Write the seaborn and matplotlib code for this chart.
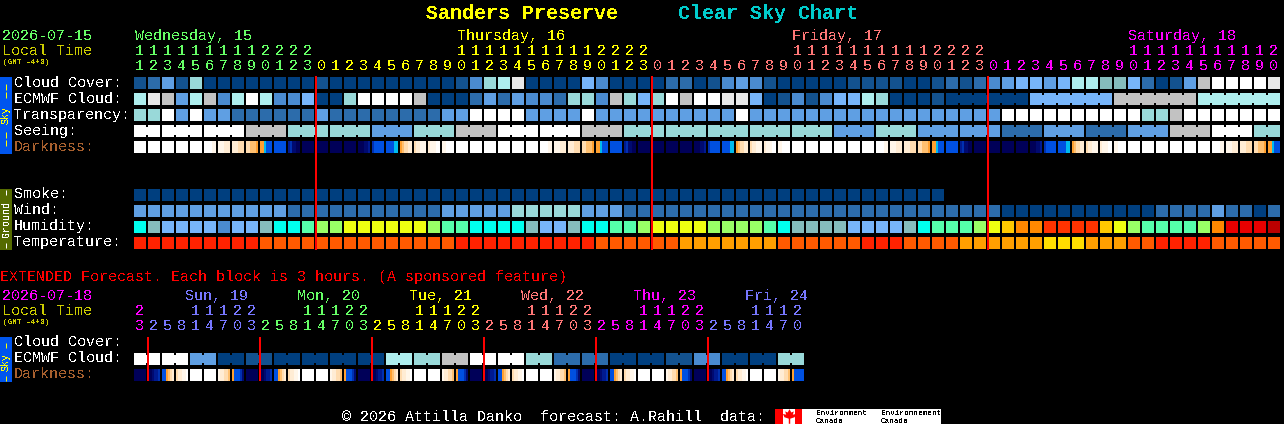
import numpy as np
import pandas as pd
import matplotlib
matplotlib.use("Agg")
import matplotlib.pyplot as plt
import seaborn as sns
from matplotlib.colors import ListedColormap
from matplotlib.patches import Rectangle

sns.set_style("dark")
plt.rcParams['font.family'] = ['Liberation Mono', 'DejaVu Sans Mono']
plt.rcParams['text.antialiased'] = False

W, H = 1284, 424

# one letter per block, letters joined together are blocks drawn as one run
cloud_cover = "B C E B G A A A A A A A A B A A A A A A A A A B D G H J A A A A F D A A A A C C A B D E D B A A A A A B B B B A A B C B C D E F F E F H H T T F C A B E I K K K K J"
ecmwf_cloud = "H J I E H I D H K H D D F A A G K K K K I A A A C E C E D D C G G D I G F G K I K K J J F A B D B D F F H G A A A B AAAAAA FFFFFF IIIIII HHHHHH"
transparency = ("G G K E K E E C C C  C C C E C C C C C C  C C E E K K K K E E  E E K E E E E E E E  "
                "E E E K E E E E E E  E E E E E E E E E E  E E K K K K K K K K  K K G G I K K K K K K K")
seeing = "KK KKK KKK III GGG GGG EEE GGG III KKK KKK III GGG GGG GGG GGG GGG EEE GGG EEE EEE CCC EEE CCC EEE III KKK GG"
smoke = "A A A A A A A A A A A A A A A A A A A A A A A A A A A A A A A A A A A A A A A A A A A A A A A A A A A A A A A A A A"
wind = "E E E E E E E E E E E C C C C C C C C C C C E E E E E G G G G G E E E C C C C C C C C C C C C C C C C C C C C C C C C C C C A A A A A A A A A A A C C C C E C C A C"
humidity = "Y T F F F F D F F T Y Y M L L N N N N N N L M M Y Y Y Y T F F T Y Y M M L N N N N L L L L M Y T T T T F F F F T Y M M M L N P O O R R R R P N L M M M M L O S S S U"
temperature = "1 1 1 1 1 1 1 1 1 2 2 2 2 2 2 2 2 2 2 2 2 2 2 1 1 1 1 1 1 1 1 1 1 2 2 2 2 2 2 3 3 3 3 3 3 3 2 2 2 2 2 2 1 1 1 2 2 2 2 3 3 3 3 3 3 4 4 4 3 3 3 2 2 1 1 1 1 2 2 2 2 2"

# darkness: one letter = solid block, six letters = colour across the block
darkness = """K K K K K KKKKaa aaabbb bbbccc ccddde eefggg g ihjjkk k k k k kkkjji hggggg ggggff edccbb cbbaaa baaaKK aaKKKK
K K K K K K KKKKaa aaabbb bbbccc ccddde eefggg g ihjjkk k k k k kkkjji hggggg ggggff edccbb cbbaaa baaaKK aaKKKK
K K K K K K KKKKaa aaabbb bbbccc ccddde eefggg g ihjjkk k k k k kkkjji hggggg ggggff edccbb cbbaaa baaaKK aaKKKK
K K K K K K KKKKaa aaabbb bbbccc ccddde eefggg"""

ext_ecmwf = "KK KK EE AA BB AA AA AA AA HH GG II KK KK GG CC CC AA AA BB DD AA AA GG"
ext_darkness = """k kkjiih ggedcb cbbaaK K K abbccd eggghj k kkjiih ggedcb cbbaaK K K abbccd eggghj
k kkjiih ggedcb cbbaaK K K abbccd eggghj k kkjiih ggedcb cbbaaK K K abbccd eggghj
k kkjiih ggedcb cbbaaK K K abbccd eggghj k kkjiih ggedcb cbbaaK K K abbccd eggggg"""

colors = {
    'A': '#003f7f', 'B': '#13528f', 'C': '#2c6cab', 'D': '#4a8bd0', 'E': '#5f9fe3', 'F': '#77b5fa',
    'G': '#99d9d9', 'H': '#aeeeee', 'T': '#85bdbd', 'I': '#c2c2c2', 'J': '#e8e8e8', 'K': '#ffffff',
    'Y': '#00ffee', 'M': '#55ffaa', 'L': '#99ff66', 'N': '#eeff11', 'P': '#ffc800', 'O': '#ff8800',
    'R': '#ff3300', 'S': '#e80000', 'U': '#bb0000',
    '1': '#ff2200', '2': '#ff5a00', '3': '#ff9f00', '4': '#ffdd00',
    'a': '#fff6ea', 'b': '#ffecd4', 'c': '#ffdcb0', 'd': '#ffc070', 'e': '#ffa030', 'f': '#00bbee',
    'g': '#0050e0', 'h': '#0030b0', 'i': '#001a90', 'j': '#000a70', 'k': '#000058',
}
letters = list(colors)
cmap = ListedColormap(list(colors.values()))

GREEN, YELLOW, SALMON, MAGENTA, BLUE = '#66ff66', '#ffff00', '#ff7777', '#ff00ff', '#7777ff'
OLIVE, BROWN, RED = '#cccc00', '#a8602e', '#ff0000'

main_days = [
    ("Wednesday, 15", 135, GREEN, [11, 12, 13, 14, 15, 16, 17, 18, 19, 20, 21, 22, 23]),
    ("Thursday, 16", 457, YELLOW, list(range(24))),
    ("Friday, 17", 792, SALMON, list(range(24))),
    ("Saturday, 18", 1128, MAGENTA, list(range(21))),
]
ext_hours = [2, 5, 8, 11, 14, 17, 20, 23]
ext_days = [
    ("", 0, MAGENTA, [23]),
    ("Sun, 19", 185, BLUE, ext_hours),
    ("Mon, 20", 297, GREEN, ext_hours),
    ("Tue, 21", 409, YELLOW, ext_hours),
    ("Wed, 22", 521, SALMON, ext_hours),
    ("Thu, 23", 633, MAGENTA, ext_hours),
    ("Fri, 24", 745, BLUE, ext_hours[:-1]),
]


def row_grid(blocks, n):
    # 2 px grid: block 6 units, gap 1 unit, notch on the joins inside a run
    grid = np.full((6, 7 * n), np.nan)
    col = 0
    for block in blocks.split():
        for k, ch in enumerate(block):
            idx = letters.index(ch)
            grid[:, col * 7:col * 7 + 6] = idx
            if k < len(block) - 1:
                grid[1:5, col * 7 + 6] = idx
            col += 1
    return grid


def dark_grid(tokens, n):
    grid = np.full((6, 7 * n), np.nan)
    for col, token in enumerate(tokens.split()):
        for k in range(6):
            grid[:, col * 7 + k] = letters.index(token[k] if len(token) > 1 else token)
    return grid


def panel(fig, rows, left, top, n):
    # rows are 16 px apart, blocks 12 px tall
    stack = []
    for r in rows:
        stack.append(r)
        stack.append(np.full((2, 7 * n), np.nan))
    data = pd.DataFrame(np.vstack(stack[:-1]))
    height = data.shape[0] * 2
    ax = fig.add_axes([left / W, 1 - (top + height) / H, 14 * n / W, height / H])
    sns.heatmap(data, ax=ax, mask=data.isna(), cmap=cmap, vmin=-0.5, vmax=len(letters) - 0.5,
                cbar=False, xticklabels=False, yticklabels=False)
    ax.set_facecolor('black')
    ax.set_xlabel("")
    ax.set_ylabel("")
    return ax


def hour_ticks(ax, days, y_tens, y_ones):
    col = 0
    for name, x, color, hours in days:
        if name:
            ax.text(x, y_tens - 15, name, color=color, fontsize=FS, va='baseline')
        for h in hours:
            cx = 134 + 14 * col + 5.5
            if h >= 10:
                ax.text(cx, y_tens, str(h // 10), color=color, fontsize=FS, ha='center', va='baseline')
            ax.text(cx, y_ones, str(h % 10), color=color, fontsize=FS, ha='center', va='baseline')
            col += 1


fig = plt.figure(figsize=(W / 100, H / 100), dpi=100, facecolor='black')
FS = 10.8

panel(fig, [row_grid(cloud_cover, 82), row_grid(ecmwf_cloud, 82), row_grid(transparency, 82),
            row_grid(seeing, 82), dark_grid(darkness, 82)], 134, 77, 82)
panel(fig, [row_grid(smoke, 82), row_grid(wind, 82), row_grid(humidity, 82),
            row_grid(temperature, 82)], 134, 189, 82)
panel(fig, [row_grid(ext_ecmwf, 48), dark_grid(ext_darkness, 48)], 134, 353, 48)

ax = fig.add_axes([0, 0, 1, 1], zorder=5)
ax.set_xlim(0, W)
ax.set_ylim(H, 0)
ax.axis('off')
ax.patch.set_alpha(0)

# title
ax.text(426, 19, "Sanders Preserve", color=YELLOW, fontsize=14.4, fontweight='bold', va='baseline')
ax.text(678, 19, "Clear Sky Chart", color='#00cccc', fontsize=14.4, fontweight='bold', va='baseline')

# time headers
ax.text(2, 40, "2026-07-15", color=GREEN, fontsize=FS, va='baseline')
ax.text(2, 55, "Local Time", color=OLIVE, fontsize=FS, va='baseline')
ax.text(3, 64, "(GMT -4+0)", color=OLIVE, fontsize=5.6, va='baseline')
hour_ticks(ax, main_days, 55, 70)

ax.text(0, 281, "EXTENDED Forecast. Each block is 3 hours. (A sponsored feature)", color=RED, fontsize=FS, va='baseline')
ax.text(2, 300, "2026-07-18", color=MAGENTA, fontsize=FS, va='baseline')
ax.text(2, 315, "Local Time", color=OLIVE, fontsize=FS, va='baseline')
ax.text(3, 324, "(GMT -4+0)", color=OLIVE, fontsize=5.6, va='baseline')
hour_ticks(ax, ext_days, 315, 330)
ax.text(134 + 5.5, 315, "2", color=MAGENTA, fontsize=FS, ha='center', va='baseline')

# row labels
for text, y, c in [("Cloud Cover:", 87, 'white'), ("ECMWF Cloud:", 103, 'white'), ("Transparency:", 119, 'white'),
                   ("Seeing:", 135, 'white'), ("Darkness:", 151, BROWN), ("Smoke:", 198, 'white'),
                   ("Wind:", 214, 'white'), ("Humidity:", 230, 'white'), ("Temperature:", 246, 'white'),
                   ("Cloud Cover:", 346, 'white'), ("ECMWF Cloud:", 362, 'white'), ("Darkness:", 378, BROWN)]:
    ax.text(14, y, text, color=c, fontsize=FS, va='baseline')

# side bars
for y0, y1, c, tc, text, yt, dashes in [
        (77, 154, '#0055ee', YELLOW, "Sky", 115, [(84, 90), (92, 98), (132, 138), (140, 146)]),
        (189, 250, '#556b00', 'white', "Ground", 219, [(190, 195), (243, 248)]),
        (337, 382, '#0055ee', YELLOW, "Sky", 362, [(343, 348), (376, 381)])]:
    ax.add_patch(Rectangle((0, y0), 12, y1 - y0, color=c, lw=0))
    ax.text(6, yt, text, color=tc, fontsize=7.2, rotation=90, ha='center', va='center')
    for d0, d1 in dashes:
        ax.vlines(6, d0, d1, color=tc, lw=0.72, capstyle='butt')

# midnight lines
ax.vlines([316, 652, 988], 76, 250, color=RED, lw=1.44, capstyle='butt')
ax.vlines([148, 260, 372, 484, 596, 708], 337, 381, color=RED, lw=1.44, capstyle='butt')

# footer
ax.text(342, 421, "© 2026 Attilla Danko  forecast: A.Rahill  data:", color='white', fontsize=FS, va='baseline')
ax.add_patch(Rectangle((775, 409), 166, 15, color='white', lw=0))
ax.add_patch(Rectangle((775, 409), 8, 15, color=RED, lw=0))
ax.add_patch(Rectangle((795, 409), 7, 15, color=RED, lw=0))
leaf = [(0, 1), (.25, .55), (.6, .7), (.45, .25), (.9, .35), (.7, -.1), (.1, -.3), (.1, -1),
        (-.1, -1), (-.1, -.3), (-.7, -.1), (-.9, .35), (-.45, .25), (-.6, .7), (-.25, .55)]
ax.scatter([789], [416], marker=leaf, s=110, color=RED, lw=0)
for x, top_word in [(816, "Environment"), (881, "Environnement")]:
    ax.text(x, 415, top_word, color='black', fontsize=5.5, va='baseline')
    ax.text(x, 423, "Canada", color='black', fontsize=5.5, va='baseline')

fig.savefig("out.png", dpi=100, facecolor='black')
